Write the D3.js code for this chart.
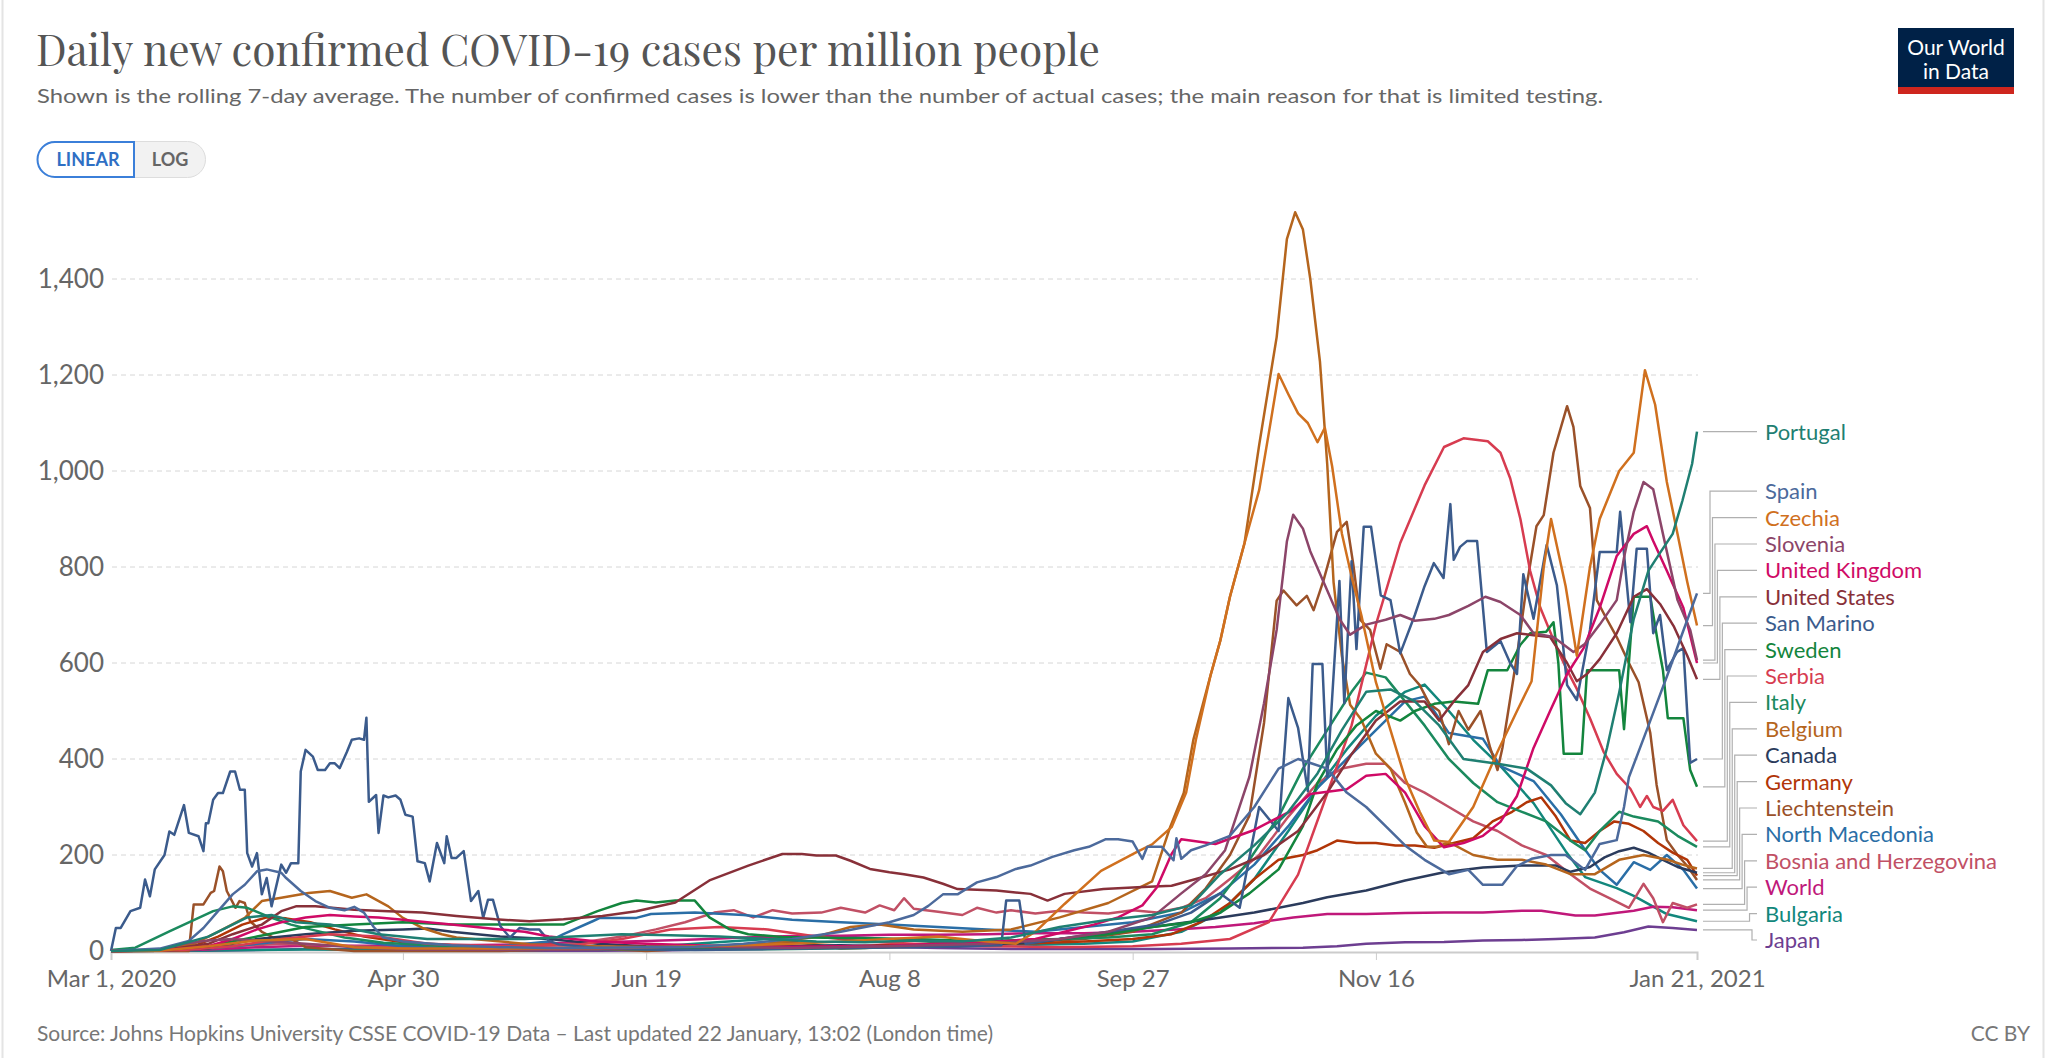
<!DOCTYPE html>
<html>
<head>
<meta charset="utf-8">
<script src="https://cdn.jsdelivr.net/npm/d3@7"></script>
<style>
  body { margin: 0; background: #fff; }
  text { font-family: Lato, "Open Sans", sans-serif; }
</style>
</head>
<body>
<div id="chart"></div>
<script>
// every series is a list of [days since 1 Mar 2020, cases per million]
const portugal = [[0,0],[10,2],[20,30],[28,70],[33,75],[38,60],[45,55],[55,35],[65,25],[75,25],[85,25],[95,30],[105,35],[115,33],[125,30],[135,25],[145,20],[155,18],[165,22],[175,20],[185,28],[195,50],[205,65],[214,75],[222,95],[228,160],[235,220],[242,290],[248,370],[253,460],[258,540],[263,545],[268,520],[273,470],[278,400],[285,390],[291,380],[296,345],[299,308],[302,285],[305,330],[307.5,423],[310,538],[313,692],[316,792],[318.5,831],[321,869],[323,938],[325,1015],[326,1082]]
const spain = [[0,0],[10,5],[16,21],[19,48],[22,83],[25,118],[27.5,138],[30,166],[32,170],[35,163],[36,152],[39,125],[42,104],[45,90],[48,85],[50,92],[52,80],[54,50],[56,28],[60,20],[70,12],[80,8],[90,6],[100,7],[110,8],[120,9],[130,15],[140,25],[150,40],[160,60],[165,75],[168,94],[171,118],[174,118],[178,143],[182,154],[186,171],[189,178],[193.5,196],[198,210],[201,217],[204.5,233],[207,233],[210,228],[212,192],[213,217],[216,217],[218.4,189],[219,235],[220,192],[222,210],[225,220],[230,240],[235,300],[240,380],[244,400],[247,390],[250,380],[254,330],[258,300],[262,260],[266,220],[270,190],[275,160],[279,169],[282,138],[286,138],[289,177],[292,192],[296,200],[299,200],[303,169],[306,223],[309.5,231],[311,300],[312,362],[316,469],[320,577],[323,662],[326,745]]
const czechia = [[0,0],[10,0.5],[20,10],[30,22],[40,25],[50,8],[60,5],[80,5],[100,6],[120,10],[130,12],[140,15],[150,20],[160,25],[170,30],[180,20],[186,15],[190,40],[196,98],[203.5,167],[210.8,206],[214,222],[218,258],[221,330],[223,440],[226,574],[228,646],[230,738],[233,850],[236,960],[238,1080],[240,1202],[242,1160],[244,1120],[246,1100],[248,1060],[249.5,1090],[251,1010],[253,870],[255,780],[257,700],[260,560],[263,460],[266,360],[269,290],[272,230],[275,227],[280,300],[285,415],[289,500],[292,562],[294.5,800],[296,900],[299,760],[301.3,615],[304,800],[306,900],[310,1000],[313,1038],[315.3,1210],[317.4,1138],[319.8,977],[322,869],[324,769],[326,678]]
const slovenia = [[0,0],[10,3],[15,15],[20,22],[25,25],[30,22],[40,15],[50,8],[60,3],[80,2],[100,3],[110,8],[120,10],[140,6],[160,10],[180,15],[195,25],[205,40],[214,70],[220,120],[225,160],[229,210],[232,302],[234,363],[237,516],[239.6,669],[241.7,853],[243,909],[245,880],[246.5,833],[250,751],[252.6,690],[254.7,659],[258,680],[262,690],[265,700],[268,688],[272,692],[275,700],[279,719],[282.5,738],[285.6,727],[289.7,700],[292.4,662],[296.5,654],[300.6,623],[303,640],[306,680],[309.5,731],[311,820],[313,915],[315,977],[317,962],[319,869],[322,731],[324.6,669],[326,606]]
const unitedKingdom = [[0,0],[10,1],[20,10],[25,25],[30,45],[35,60],[40,70],[45,75],[50,72],[55,70],[60,65],[65,60],[70,55],[75,50],[80,45],[85,40],[90,30],[95,25],[100,20],[110,15],[120,12],[130,10],[140,9],[150,10],[160,11],[170,15],[180,18],[190,25],[196,40],[202,55],[207,70],[212,95],[215,133],[218,202],[220,233],[227,223],[234.7,251],[242.6,292],[246.5,327],[254,337],[258,365],[262,369],[266,330],[270,260],[274,216],[278,225],[282,240],[285.6,269],[289,323],[292.4,423],[295.8,500],[299.3,577],[302.7,631],[306,715],[309.5,823],[313,869],[315.7,885],[317,854],[319.8,792],[323.2,715],[326,600]]
const unitedStates = [[0,0],[10,0.5],[20,15],[25,35],[31,55],[35,83],[38,93],[42,93],[50,86],[57,83],[64,80],[71,73],[79,66],[86,62],[93,66],[101,73],[108,83],[116,101],[123,147],[131,178],[138,202],[142,202],[145,199],[149,199],[152,188],[156,171],[160,164],[163,160],[167,153],[171,140],[174,129],[182,126],[189,119],[192.5,105],[196,119],[204,129],[211,133],[218,136],[223,150],[230,170],[237,200],[244,250],[250,330],[255,410],[260,480],[265,520],[270,520],[273,480],[276,520],[279,554],[282,623],[285.6,650],[289,662],[292.4,658],[295.8,654],[299.3,600],[301.3,562],[303.4,577],[306,608],[309.5,662],[313,738],[315.7,754],[318.4,723],[321.2,677],[324,615],[326,566]]
const sanMarino = [[0,0],[1,48],[2,48],[4,83],[6,90],[7,149],[8,114],[9,170],[11,200],[12,249],[13,242],[15,304],[16,246],[18,239],[19,208],[19.5,266],[20,266],[21,315],[22,329],[23,329],[24.5,374],[25.5,374],[26.5,336],[27.5,336],[28,204],[29,176],[30,204],[31,118],[32,152],[33,93],[35,180],[36,163],[37,183],[38.5,183],[39,374],[40,419],[41.5,405],[42.5,377],[44,377],[45,391],[46,391],[47,381],[48.5,415],[49.5,440],[51,443],[52,440],[52.5,486],[53,311],[54.5,325],[55,246],[56,324],[57,320],[58.5,324],[59.5,315],[60.5,284],[62,280],[63,187],[64.5,183],[65.5,145],[67,225],[68.5,183],[69,239],[70,194],[71,194],[72.5,208],[74,104],[75.5,125],[76.5,69],[77.5,107],[78.5,107],[80,52],[82,28],[84,48],[86,45],[88,45],[90,21],[92,14],[100,6],[110,3],[120,2],[135,4],[150,6],[165,8],[175,10],[183,12],[184,105],[186.7,105],[188,15],[195,25],[205,40],[215,55],[222,80],[228,120],[232,90],[236,300],[240,250],[242,527],[244,465],[246,333],[247,598],[249,598],[250,363],[252.5,771],[253.5,516],[255,812],[256,629],[257.5,884],[259,884],[261,741],[263,731],[265,620],[268,700],[270,760],[271.9,808],[273.9,777],[275.3,931],[276,815],[277.3,842],[278.7,854],[280.8,854],[282.8,623],[285.6,646],[287.6,600],[289,577],[290.3,785],[292.4,692],[295.1,846],[297.2,762],[299.3,554],[301.3,523],[304,669],[306,831],[309.5,831],[310.2,915],[312.3,685],[313.6,838],[315.7,838],[317,662],[318.4,700],[319.8,585],[321.9,623],[323.2,631],[324.6,392],[326,400]]
const sweden = [[0,0],[10,2],[20,10],[30,30],[40,50],[50,55],[60,60],[70,55],[80,55],[93,55],[100,83],[105,100],[108,105],[112,101],[116,105],[120,105],[123,70],[127,46],[131,35],[138,29],[150,27],[165,25],[180,20],[195,25],[205,35],[214,50],[222,60],[228,80],[234,120],[240,170],[245,260],[248,350],[252,420],[256,470],[260,500],[265,480],[268,500],[272,515],[276,520],[281,515],[283,585],[287,585],[289.7,638],[291.7,662],[295,665],[296.5,685],[297.5,600],[298.6,411],[302.3,411],[303.4,585],[310,585],[311,462],[312,600],[313,738],[316.4,738],[318,640],[319,585],[320,485],[323.2,485],[324.6,377],[326,342]]
const serbia = [[0,0],[15,2],[25,10],[35,25],[45,35],[55,30],[65,15],[80,10],[95,12],[105,25],[115,45],[125,50],[135,45],[145,30],[155,20],[165,15],[180,10],[195,8],[210,10],[220,15],[230,25],[238,60],[244,159],[249,300],[255,470],[260,680],[265,850],[270,970],[274,1050],[278,1068],[283,1062],[285.6,1038],[287.6,985],[289.7,900],[291.7,792],[293.8,715],[297.2,631],[299.3,585],[301.3,546],[304,485],[306.8,415],[309.5,369],[312.3,338],[314.3,300],[315.7,323],[317,300],[319,292],[321,315],[323.2,262],[326,229]]
const italy = [[0,2],[5,7],[12,41],[18,69],[21,83],[25,93],[28,90],[32,73],[37,55],[41,45],[48,28],[56,17],[65,12],[75,8],[85,5],[100,4],[120,3],[140,4],[155,6],[165,12],[175,20],[185,22],[195,25],[205,28],[214,35],[222,60],[228,110],[234,190],[240,280],[245,380],[250,460],[255,540],[258,580],[262,570],[266,520],[270,470],[275,400],[280,350],[285,310],[290,290],[295,270],[300,230],[303,210],[306,250],[310,290],[313,280],[318,270],[322,240],[326,217]]
const belgium = [[0,0],[10,1],[17,15],[22,40],[27.5,69],[31,104],[35,111],[40.6,121],[45,125],[49.5,111],[52.5,118],[57,93],[60,69],[64,48],[68,35],[71,28],[79,21],[86,14],[100,10],[115,8],[125,10],[135,15],[145,30],[152,50],[158,55],[165,45],[175,40],[185,45],[195,70],[205,100],[214,145],[217.7,258],[220.5,329],[222.5,441],[226,574],[228,646],[230,738],[233,850],[236,1054],[239.6,1279],[241.7,1483],[243.4,1539],[245,1503],[246.5,1401],[248.5,1228],[250,1013],[251.3,768],[253,615],[254.7,513],[257,482],[260,411],[263,380],[266,309],[268.4,247],[270.5,217],[272.5,217],[275,227],[280,200],[285,190],[290,190],[295,180],[300,160],[305,160],[310,190],[315,200],[320,190],[323,180],[326,172]]
const canada = [[0,0],[10,0.5],[20,5],[30,25],[40,35],[50,42],[60,45],[65,47],[70,40],[80,30],[90,25],[100,15],[110,10],[120,8],[130,9],[140,11],[150,12],[160,10],[170,10],[180,12],[190,18],[203,35],[214,50],[225,65],[235,80],[245,100],[250,112],[258,126],[266,147],[274,164],[282,174],[290,178],[297,178],[300,165],[304,175],[307,195],[310,208],[313,215],[316,205],[319,190],[322,175],[326,163]]
const germany = [[0,0],[10,1],[17,10],[22,30],[27,55],[32,70],[36,68],[41,60],[46,45],[52,30],[60,18],[70,12],[80,8],[90,5],[100,5],[110,6],[120,6],[130,6],[140,7],[150,9],[160,13],[170,15],[180,15],[190,16],[200,20],[210,25],[218,35],[224,60],[230,100],[235,150],[240,190],[245,200],[248,210],[252,230],[256,225],[260,225],[264,220],[268,220],[272,215],[276,225],[280,235],[284,270],[288,290],[291,310],[294,320],[297,280],[300,230],[303,225],[306,250],[309,270],[312,265],[315,250],[318,225],[321,205],[324,190],[326,157]]
const liechtenstein = [[0,0],[16,0],[17,97],[19,97],[20.5,121],[21.2,125],[22.3,176],[23,166],[23.8,125],[25.6,90],[26.4,104],[27.5,100],[28.6,62],[31,40],[34,25],[36.6,28],[40,8],[50,0],[80,0],[100,5],[110,0],[130,10],[140,20],[150,5],[170,10],[190,20],[200,25],[210,40],[220,80],[225,130],[230,200],[234,282],[237,475],[239.6,730],[241,751],[243.7,720],[245.8,740],[247.2,710],[249.2,771],[252,873],[254,894],[255.4,802],[256.8,690],[258.8,669],[260.9,588],[262.2,639],[265,623],[267,577],[269,554],[271,515],[273,500],[275,431],[277,500],[279,461],[281.5,500],[283.5,423],[285,377],[286,423],[289,615],[291,762],[293,885],[294.5,908],[296.5,1038],[299.3,1135],[300.6,1092],[302,969],[304,923],[305.4,731],[307,700],[309.5,654],[312,600],[314,560],[316.4,454],[317.7,346],[319.8,231],[322,200],[324,177],[326,148]]
const northMacedonia = [[0,0],[10,1],[20,5],[30,15],[40,25],[50,20],[60,10],[70,5],[80,10],[90,20],[93,35],[99,62],[100.5,69],[108,69],[111,77],[120,80],[130,75],[140,65],[150,60],[160,55],[170,50],[180,45],[190,40],[200,50],[210,60],[220,80],[228,120],[235,180],[242,260],[248,340],[254,400],[260,460],[266,520],[270,530],[275,454],[282,442],[285.6,385],[292.4,354],[298,285],[302.7,215],[306,169],[309.5,138],[313,185],[316.4,169],[319.8,200],[323.2,169],[326,130]]
const bosnia = [[0,0],[15,2],[25,10],[35,15],[45,12],[55,8],[65,5],[80,5],[95,15],[105,30],[112,45],[118,60],[124,80],[128,85],[132,70],[136,85],[140,78],[146,80],[150,90],[155,80],[158,95],[161,85],[163,110],[165,88],[170,82],[175,75],[178,90],[182,80],[185,85],[190,78],[195,84],[200,80],[205,78],[210,85],[215,80],[220,90],[225,110],[230,150],[236,200],[242,280],[248,350],[253,380],[258,390],[262,390],[266,350],[270,330],[275,300],[280,270],[285,250],[290,220],[295,200],[300,160],[304,130],[308,110],[312,90],[315,140],[317,110],[319,60],[321,100],[324,90],[326,97]]
const world = [[0,0.3],[10,0.5],[20,3],[30,8],[40,11],[50,11],[60,11],[70,12],[80,13],[90,16],[100,18],[110,21],[120,24],[130,28],[140,31],[150,32],[160,34],[170,34],[180,35],[190,37],[200,37],[210,40],[219,45],[227,50],[235,58],[243,70],[250,77],[258,77],[266,79],[274,80],[282,80],[290,84],[294,84],[301,74],[305,74],[313,84],[317,92],[321,91],[326,85]]
const bulgaria = [[0,0],[20,1],[40,3],[60,2],[80,2],[100,3],[110,8],[120,15],[130,22],[140,28],[150,30],[160,25],[170,18],[180,15],[190,13],[200,15],[210,20],[220,40],[228,80],[235,150],[242,250],[248,340],[254,420],[260,490],[266,540],[270,555],[275,500],[280,440],[285.6,385],[292.4,308],[299,208],[303,154],[309.5,131],[313,115],[319.8,77],[326,62]]
const japan = [[0,0.3],[20,0.5],[35,3],[42,4.5],[50,3.5],[60,2],[70,0.5],[85,0.4],[100,0.5],[115,1.5],[130,5],[150,8],[158,9],[170,6],[185,4],[200,4],[215,4],[230,5],[245,7],[252,10],[258,15],[266,18],[274,19],[282,22],[290,23],[297,25],[305,28],[311,39],[316,51],[321,48],[326,44]]

const countries = ['Portugal','Spain','Czechia','Slovenia','United Kingdom','United States','San Marino','Sweden','Serbia','Italy','Belgium','Canada','Germany','Liechtenstein','North Macedonia','Bosnia and Herzegovina','World','Bulgaria','Japan']
const lineColors = ['#1f7f72','#4c6a9c','#d0701e','#8c4569','#cf0a66','#883039','#3b5b8c','#13853d','#d73c50','#1b8a5e','#b5651d','#2b3b5c','#b13507','#9a5129','#2a6ea6','#c15065','#c0187a','#12877c','#6d3e91']
const seriesValues = [portugal, spain, czechia, slovenia, unitedKingdom, unitedStates, sanMarino, sweden, serbia, italy, belgium, canada, germany, liechtenstein, northMacedonia, bosnia, world, bulgaria, japan]

const yTicks = [0, 200, 400, 600, 800, 1000, 1200, 1400]
const xTickDays = [0, 60, 110, 160, 210, 260, 326]
const xTickLabels = ['Mar 1, 2020', 'Apr 30', 'Jun 19', 'Aug 8', 'Sep 27', 'Nov 16', 'Jan 21, 2021']

const width = 2048
const height = 1058
const start = new Date(2020, 2, 1)
const toDate = d => new Date(start.getTime() + d * 864e5)

const svg = d3.select('#chart')
  .append('svg')
  .attr('width', width)
  .attr('height', height)

// frame
svg.append('line').attr('x1', 2.5).attr('x2', 2.5).attr('y1', 0).attr('y2', height).attr('stroke', '#e4e4e4').attr('stroke-width', 2)
svg.append('line').attr('x1', 2043.5).attr('x2', 2043.5).attr('y1', 0).attr('y2', height).attr('stroke', '#e4e4e4').attr('stroke-width', 2)

// header
svg.append('text')
  .text('Daily new confirmed COVID-19 cases per million people')
  .attr('x', 36).attr('y', 66)
  .style('font-family', '"Playfair Display", "Liberation Serif", "DejaVu Serif", serif')
  .attr('font-size', 43)
  .attr('fill', '#555')
  .attr('textLength', 1064)
  .attr('lengthAdjust', 'spacingAndGlyphs')

svg.append('text')
  .text('Shown is the rolling 7-day average. The number of confirmed cases is lower than the number of actual cases; the main reason for that is limited testing.')
  .attr('x', 37).attr('y', 103)
  .attr('font-size', 20)
  .attr('fill', '#666')
  .attr('textLength', 1566)
  .attr('lengthAdjust', 'spacingAndGlyphs')

// LINEAR / LOG toggle
const toggle = svg.append('g').attr('transform', 'translate(37,141)')
toggle.append('rect').attr('x', 0.5).attr('y', 0.5).attr('width', 168).attr('height', 36).attr('rx', 18)
  .attr('fill', '#f2f2f2').attr('stroke', '#ddd')
toggle.append('path')
  .attr('d', 'M97,1 H18 A17,17 0 0 0 18,36 H97 Z')
  .attr('fill', '#fff').attr('stroke', '#3b7fd9').attr('stroke-width', 2)
toggle.append('text').text('LINEAR').attr('x', 51).attr('y', 25).attr('text-anchor', 'middle')
  .attr('font-size', 18).attr('font-weight', 700).attr('fill', '#2f6fc4')
toggle.append('text').text('LOG').attr('x', 133).attr('y', 25).attr('text-anchor', 'middle')
  .attr('font-size', 18).attr('font-weight', 700).attr('fill', '#666')

// logo
const logo = svg.append('g').attr('transform', 'translate(1898,28)')
logo.append('rect').attr('width', 116).attr('height', 59).attr('fill', '#002147')
logo.append('rect').attr('y', 59).attr('width', 116).attr('height', 7).attr('fill', '#ce261e')
logo.append('text').text('Our World').attr('x', 58).attr('y', 27).attr('text-anchor', 'middle')
  .attr('font-size', 21).attr('fill', '#fff')
logo.append('text').text('in Data').attr('x', 58).attr('y', 51).attr('text-anchor', 'middle')
  .attr('font-size', 21).attr('fill', '#fff')

// scales
const x = d3.scaleTime()
  .domain([start, toDate(326)])
  .range([111, 1697])

const y = d3.scaleLinear()
  .domain([0, 1400])
  .range([951, 279])

// grid + y labels
const yAxis = svg.append('g').attr('class', 'axis y-axis')
yAxis.selectAll('line')
  .data(yTicks.filter(d => d > 0))
  .enter()
  .append('line')
  .attr('x1', 112).attr('x2', 1698)
  .attr('y1', d => y(d)).attr('y2', d => y(d))
  .attr('stroke', '#d6d6d6')
  .attr('stroke-dasharray', '5,4')
yAxis.selectAll('text')
  .data(yTicks)
  .enter()
  .append('text')
  .text(d3.format(','))
  .attr('x', 104)
  .attr('y', d => y(d) + 9)
  .attr('text-anchor', 'end')
  .attr('font-size', 26)
  .attr('fill', '#666')

// x axis
const xAxis = d3.axisBottom(x)
  .tickValues(xTickDays.map(toDate))
  .tickFormat((d, i) => xTickLabels[i])
  .tickSize(8)
  .tickPadding(10)

const xg = svg.append('g')
  .attr('class', 'axis x-axis')
  .attr('transform', 'translate(0,952)')
  .call(xAxis)
xg.select('.domain').attr('stroke', '#ccc').attr('stroke-width', 2)
xg.selectAll('.tick line').attr('stroke', '#ccc')
xg.selectAll('.tick text')
  .attr('font-size', 24)
  .attr('font-family', 'Lato, sans-serif')
  .attr('fill', '#666')

// lines
const line = d3.line()
  .x(d => x(toDate(d[0])))
  .y(d => y(d[1]))

const series = countries.map((name, i) => ({ name, color: lineColors[i], values: seriesValues[i] }))

svg.append('g')
  .selectAll('path')
  .data(series.slice().reverse())
  .enter()
  .append('path')
  .attr('d', d => line(d.values))
  .attr('fill', 'none')
  .attr('stroke', d => d.color)
  .attr('stroke-width', 2.5)
  .attr('stroke-linejoin', 'round')

// end labels: group overlapping labels, centre each group on its targets, keep inside bounds
const gap = 26.4
const labelTop = 300
const labelBottom = 940
let groups = series
  .map(s => ({ s, target: y(s.values[s.values.length - 1][1]) }))
  .sort((a, b) => a.target - b.target)
  .map(l => ({ items: [l] }))

function place(g) {
  const mean = d3.mean(g.items, d => d.target)
  let first = mean - (g.items.length - 1) * gap / 2
  first = Math.max(labelTop, Math.min(first, labelBottom - (g.items.length - 1) * gap))
  g.items.forEach((d, i) => { d.y = first + i * gap })
}
groups.forEach(place)
let merged = true
while (merged) {
  merged = false
  for (let i = 0; i < groups.length - 1; i++) {
    const a = groups[i], b = groups[i + 1]
    if (a.items[a.items.length - 1].y + gap > b.items[0].y) {
      a.items = a.items.concat(b.items)
      groups.splice(i + 1, 1)
      place(a)
      merged = true
      break
    }
  }
}
const labels = groups.flatMap(g => g.items)

const bendX = d3.scaleLinear().domain([1, labels.length - 1]).range([1710, 1752])
const labelG = svg.append('g')
labelG.selectAll('path')
  .data(labels)
  .enter()
  .append('path')
  .attr('d', (d, i) => {
    if (Math.abs(d.y - d.target) < 2) return `M1703,${d.target}H1757`
    const bx = bendX(i)
    return `M1703,${d.target}H${bx}V${d.y}H1757`
  })
  .attr('fill', 'none')
  .attr('stroke', '#b0b0b0')
  .attr('stroke-width', 1.2)

labelG.selectAll('text')
  .data(labels)
  .enter()
  .append('text')
  .text(d => d.s.name)
  .attr('x', 1765)
  .attr('y', d => d.y)
  .attr('dy', '0.36em')
  .attr('font-size', 22)
  .attr('fill', d => d.s.color)

// footer
svg.append('text')
  .text('Source: Johns Hopkins University CSSE COVID-19 Data – Last updated 22 January, 13:02 (London time)')
  .attr('x', 37).attr('y', 1041)
  .attr('font-size', 21)
  .attr('fill', '#777')
svg.append('text')
  .text('CC BY')
  .attr('x', 2030).attr('y', 1041)
  .attr('text-anchor', 'end')
  .attr('font-size', 21)
  .attr('fill', '#777')
</script>
</body>
</html>
